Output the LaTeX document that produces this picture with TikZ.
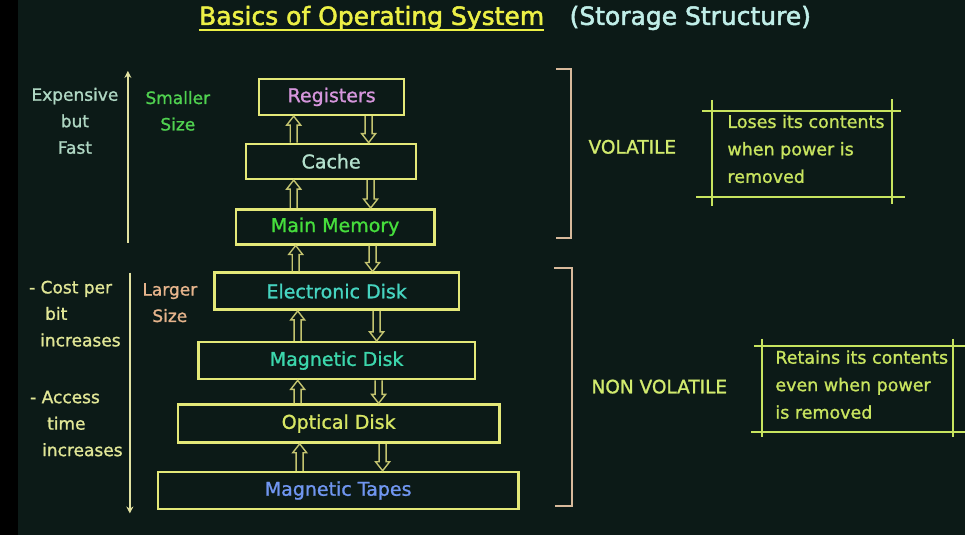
\documentclass[tikz,border=0pt]{standalone}
\usepackage{fontspec}
\setmainfont{DejaVu Sans}[FakeBold=1.2]
\newfontfamily\titlefont{DejaVu Sans}[FakeBold=2]
\usepackage{tikz}
\usetikzlibrary{arrows.meta, positioning, calc}

\definecolor{bgdark}{RGB}{12,26,23}
\definecolor{boxyellow}{RGB}{228,232,120}
\definecolor{arrowolive}{RGB}{196,196,112}
\definecolor{titleyellow}{RGB}{236,240,70}
\definecolor{subcyan}{RGB}{192,238,232}
\definecolor{regpink}{RGB}{214,150,220}
\definecolor{cachecyan}{RGB}{180,225,205}
\definecolor{memgreen}{RGB}{70,222,60}
\definecolor{diskteal}{RGB}{70,212,192}
\definecolor{magteal}{RGB}{60,215,172}
\definecolor{optyellow}{RGB}{215,230,100}
\definecolor{tapeblue}{RGB}{112,150,240}
\definecolor{fastgrey}{RGB}{175,215,195}
\definecolor{smallgreen}{RGB}{80,210,80}
\definecolor{costpale}{RGB}{225,230,150}
\definecolor{largepeach}{RGB}{230,180,140}
\definecolor{bracketpeach}{RGB}{215,185,155}
\definecolor{volgreen}{RGB}{210,235,110}
\definecolor{notegreen}{RGB}{200,228,95}
\definecolor{sidepale}{RGB}{225,225,160}

\tikzset{
  levelbox/.style={
    draw=boxyellow, line width=2.5pt, inner sep=0pt,
    font=\fontsize{19}{23}\selectfont
  },
  blockarrow/.style={
    draw=arrowolive, line width=1.4pt, line join=miter
  },
  sidearrow/.style={
    -{Stealth[length=7pt,width=7pt]}, line width=1.6pt, draw=sidepale
  },
  sidelabel/.style={
    font=\fontsize{17}{26.5}\selectfont, inner sep=0pt
  },
  notelabel/.style={
    font=\fontsize{17.5}{27.5}\selectfont, inner sep=0pt, align=left, text=notegreen
  },
  noteline/.style={line width=2pt, draw=notegreen},
  bracketline/.style={line width=2pt, draw=bracketpeach},
}

% hollow block arrows between two levels
\newcommand{\upblock}[3]{% x, lower box, upper box
  \path (#1,0 |- #2.north) coordinate (ub) (#1,0 |- #3.south) coordinate (ut);
  \draw[blockarrow] ([xshift=-3.5pt]ub) -- ([shift={(-3.5,9)}]ut) -- ([shift={(-7,9)}]ut) -- (ut)
    -- ([shift={(7,9)}]ut) -- ([shift={(3.5,9)}]ut) -- ([xshift=3.5pt]ub);
}
\newcommand{\downblock}[3]{% x, upper box, lower box
  \path (#1,0 |- #2.south) coordinate (db) (#1,0 |- #3.north) coordinate (dt);
  \draw[blockarrow] ([xshift=-3.5pt]db) -- ([shift={(-3.5,-9)}]dt) -- ([shift={(-7,-9)}]dt) -- (dt)
    -- ([shift={(7,-9)}]dt) -- ([shift={(3.5,-9)}]dt) -- ([xshift=3.5pt]db);
}

\begin{document}
\begin{tikzpicture}[x=1pt, y=-1pt]
  % === Background ===
  \fill[black] (0,0) rectangle (966,536);
  \fill[bgdark] (18,0) rectangle (966,536);

  % === Title ===
  \node[inner sep=0pt, text=titleyellow, font=\titlefont\fontsize{25}{30}\selectfont] (title) at (372,18) {Basics of Operating System};
  \draw[titleyellow, line width=2pt] ([yshift=-5pt]title.base west) -- ([yshift=-5pt]title.base east);
  \node[inner sep=0pt, text=subcyan, font=\titlefont\fontsize{25}{30}\selectfont] (subtitle) at (691,18) {(Storage Structure)};

  % === Storage levels ===
  \node[levelbox, minimum width=145, minimum height=36, text=regpink] (reg) at (332,97) {Registers};
  \node[levelbox, minimum width=170, minimum height=35, text=cachecyan] (cache) at (331.5,161.5) {Cache};
  \node[levelbox, minimum width=199, minimum height=35, text=memgreen] (mem) at (335.5,227) {Main Memory};
  \node[levelbox, minimum width=245, minimum height=37, text=diskteal] (edisk) at (337,291.5) {Electronic Disk};
  \node[levelbox, minimum width=277, minimum height=37, text=magteal] (mdisk) at (337,361) {Magnetic Disk};
  \node[levelbox, minimum width=322, minimum height=38, text=optyellow] (odisk) at (339,424) {Optical Disk};
  \node[levelbox, minimum width=361, minimum height=37, text=tapeblue] (tapes) at (338.5,491) {Magnetic Tapes};

  % === Block arrows ===
  \upblock{294}{cache}{reg}     \downblock{369}{reg}{cache}
  \upblock{294}{mem}{cache}     \downblock{371}{cache}{mem}
  \upblock{296}{edisk}{mem}     \downblock{373}{mem}{edisk}
  \upblock{298}{mdisk}{edisk}   \downblock{377}{edisk}{mdisk}
  \upblock{298}{odisk}{mdisk}   \downblock{379}{mdisk}{odisk}
  \upblock{300}{tapes}{odisk}   \downblock{383}{odisk}{tapes}

  % === Left side ===
  \coordinate (fastlow) at (128,243);
  \coordinate (fasthigh) at (128,71);
  \draw[sidearrow] (fastlow) -- (fasthigh);
  \coordinate (costhigh) at (130,273);
  \coordinate (costlow) at (130,514);
  \draw[sidearrow] (costhigh) -- (costlow);

  \node[sidelabel, align=center, text=fastgrey] (fast) at (75,121) {Expensive\\but\\Fast};
  \node[sidelabel, align=center, text=smallgreen] (small) at (178,111) {Smaller\\Size};
  \node[sidelabel, align=left, anchor=west, text=costpale] (cost) at (29,314)
    {- Cost per\\\hspace{16pt}bit\\\hspace{11pt}increases};
  \node[sidelabel, align=left, anchor=west, text=costpale] (access) at (30,424)
    {- Access\\\hspace{17pt}time\\\hspace{12pt}increases};
  \node[sidelabel, align=center, text=largepeach] (large) at (170,303) {Larger\\Size};

  % === Brackets ===
  \draw[bracketline] (557,69) -- (572,69) -- (572,238) -- (557,238);
  \draw[bracketline] (555,268) -- (573,268) -- (573,507) -- (556,507);

  \node[inner sep=0pt, text=volgreen, font=\fontsize{18.5}{22}\selectfont] (vol) at (633,147) {VOLATILE};
  \node[inner sep=0pt, text=volgreen, font=\fontsize{18.5}{22}\selectfont] (nonvol) at (660,387) {NON VOLATILE};

  % === Notes ===
  \draw[noteline] (703,111) -- (902,111);
  \draw[noteline] (697,197) -- (906,197);
  \draw[noteline] (713,100) -- (713,206);
  \draw[noteline] (893,99) -- (893,204);
  \node[notelabel, anchor=west] (losenote) at (728,149) {Loses its contents\\when power is\\removed};

  \draw[noteline] (755,346) -- (966,346);
  \draw[noteline] (752,432) -- (966,432);
  \draw[noteline] (763,339) -- (763,437);
  \draw[noteline] (954,339) -- (954,437);
  \node[notelabel, anchor=west] (keepnote) at (776,385) {Retains its contents\\even when power\\is removed};
\end{tikzpicture}
\end{document}
